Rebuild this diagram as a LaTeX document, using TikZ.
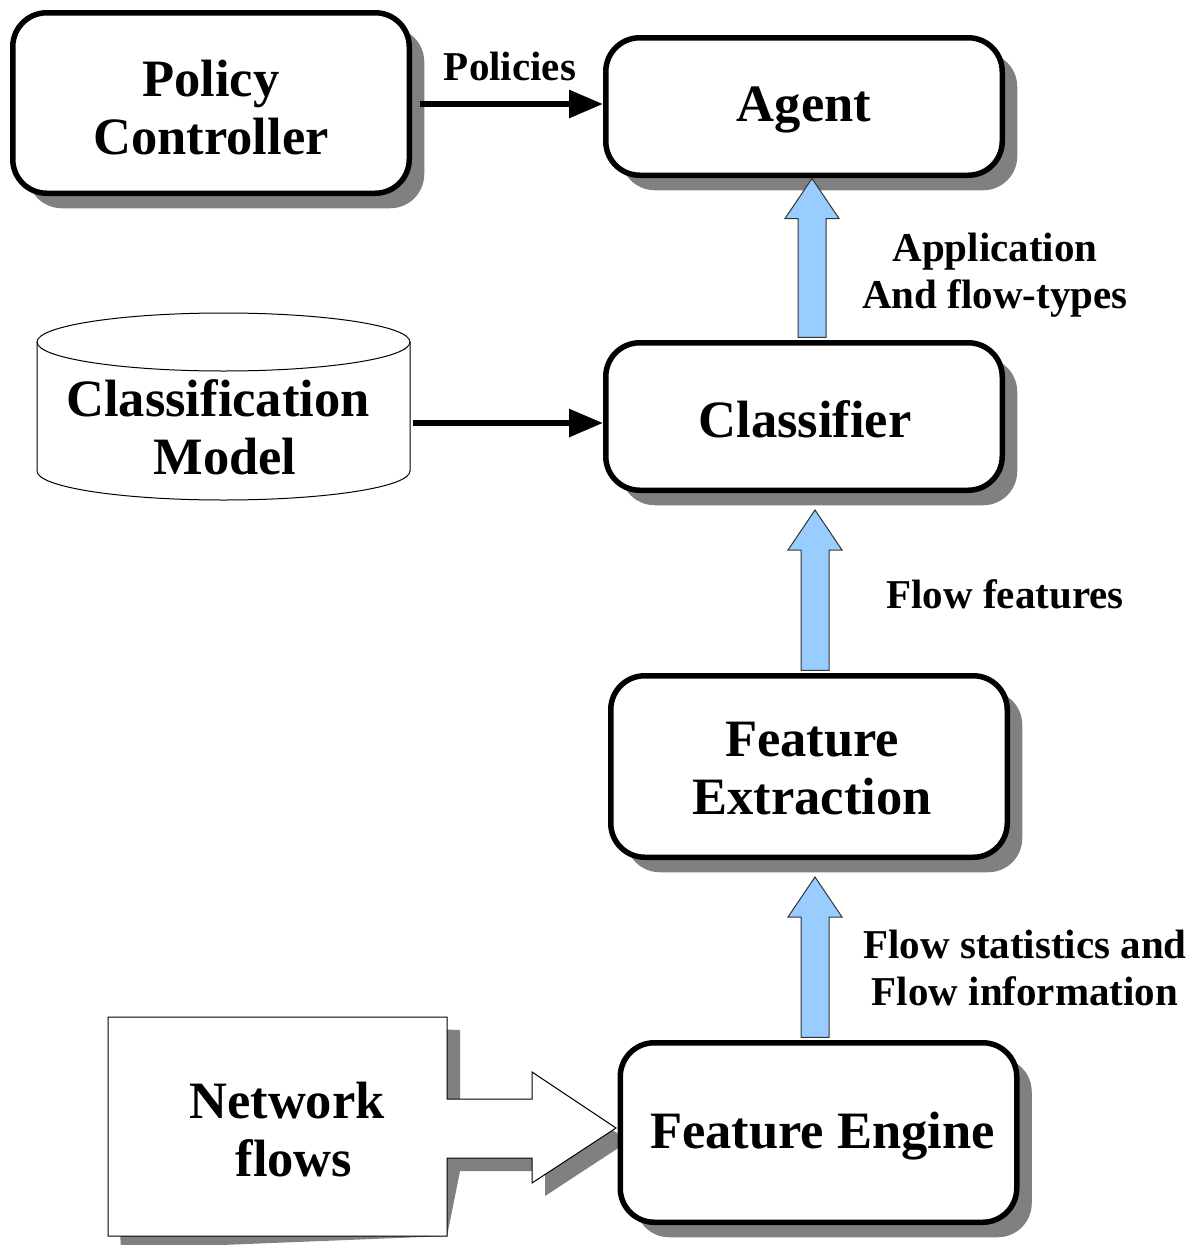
\documentclass[tikz,border=0pt]{standalone}
\usepackage{fontspec}
\setmainfont{Liberation Serif}
\usetikzlibrary{arrows.meta,calc,shadows}
\definecolor{shadegray}{RGB}{128,128,128}
\definecolor{flowblue}{RGB}{153,204,255}

% upward block arrow: #1 = foot of the shaft, #2 = point the tip reaches
\newcommand\flowarrow[2]{%
  \path[fill=flowblue, draw=black!80, line width=1pt, line join=miter]
    let \p1=(#1), \p2=(#2) in
    (\x1-14pt,\y1) -- (\x1-14pt,\y2-40pt) -- (\x1-27pt,\y2-40pt) -- (\x1,\y2)
    -- (\x1+27pt,\y2-40pt) -- (\x1+14pt,\y2-40pt) -- (\x1+14pt,\y1) -- cycle;}

\begin{document}
\begin{tikzpicture}[x=1pt,y=-1pt,
  box/.style={draw, line width=5.5pt, rounded corners=34pt, fill=white,
    minimum width=396.5pt, inner sep=0pt,
    drop shadow={shadow xshift=15pt, shadow yshift=-15pt, opacity=1, fill=shadegray}},
  lbl/.style={align=center, inner sep=0pt, font=\bfseries\fontsize{41}{47}\selectfont},
  bigtext/.style={align=center, inner sep=0pt, font=\bfseries\fontsize{52.5}{58}\selectfont},
  link/.style={line width=6pt, -{Triangle[length=34pt,width=27pt]}}]

\useasboundingbox (0,0) rectangle (1201,1245);
\fill[white] (0,0) rectangle (1201,1245);

% main processing boxes
\node[box, minimum height=180.5pt] (pc) at (211,103) {};
\node[bigtext] (pct) at ($(pc.center)+(0,5)$) {Policy\\Controller};
\node[box, minimum height=137.5pt] (agent) at (804,106.5) {};
\node[bigtext] (agt) at ($(agent.center)+(0,3)$) {Agent};
\node[box, minimum height=147.5pt] (cls) at (804,416.5) {};
\node[bigtext] (clt) at ($(cls.center)+(1,3)$) {Classifier};
\node[box, minimum height=181.5pt] (fx) at (809,766.5) {};
\node[bigtext] (fxt) at ($(fx.center)+(3,2)$) {Feature\\Extraction};

% classification model store (cylinder)
\coordinate (cyl) at (223.5,407);
\path[draw=black, fill=white, line width=1pt]
  ($(cyl)+(-186.5,-65)$) -- ($(cyl)+(-186.5,64)$)
  arc[start angle=180, end angle=360, x radius=186.5pt, y radius=29pt]
  -- ($(cyl)+(186.5,-65)$)
  arc[start angle=0, end angle=180, x radius=186.5pt, y radius=29pt] -- cycle;
\draw[line width=1pt] ($(cyl)+(-186.5,-65)$)
  arc[start angle=180, end angle=360, x radius=186.5pt, y radius=29pt];
\node[bigtext] (cm) at (218,427) {Classification\\\hspace*{14pt}Model};
\coordinate (cmr) at ($(cyl)+(189,16)$);

% network flows box with its attached block arrow
\coordinate (nfa) at (108,1017);
\coordinate (nfb) at (447,1236);
\begin{scope}[shift={(13,13)}]
  \fill[shadegray] (nfa) -- (447,1017) -- (447,1099) -- (532,1099) -- (532,1072)
    -- (616,1128) -- (532,1183) -- (532,1158) -- (447,1158) -- (nfb) -- (108,1236) -- cycle;
\end{scope}
\path[draw=black, fill=white, line width=1pt, line join=miter]
  (nfa) -- (447,1017) -- (447,1099) -- (532,1099) -- (532,1072)
  -- (616,1128) -- (532,1183) -- (532,1158) -- (447,1158) -- (nfb) -- (108,1236) -- cycle;
\node[bigtext] (nf) at (287,1130) {Network\\\hspace*{14pt}flows};

\node[box, minimum height=179.5pt] (fe) at (818.5,1132.5) {};
\node[bigtext] (fet) at ($(fe.center)+(4,4)$) {Feature Engine};

% black connectors
\draw[link] ($(pc.east)+(8,1)$) -- (agent.west |- 0,104);
\draw[link] (cmr) -- (cls.west |- cmr);

% flow arrows between the stages
\coordinate (a1) at ($(cls.north)+(8,-2.75)$);
\coordinate (t1) at ($(agent.south)+(8,0.5)$);
\flowarrow{a1}{t1}
\coordinate (a2) at ($(fx.north)+(6,-2.75)$);
\coordinate (t2) at ($(cls.south)+(6,17)$);
\flowarrow{a2}{t2}
\coordinate (a3) at ($(fe.north)+(-3.5,-2.75)$);
\coordinate (t3) at ($(fx.south)+(6,17)$);
\flowarrow{a3}{t3}

% labels
\node[lbl] (lpol) at (510,66) {Policies};
\node[lbl] (lapp) at (995,275) {Application\\And flow-types};
\node[lbl] (lff) at (1005,594) {Flow features};
\node[lbl] (lfs) at (1025,968) {Flow statistics and\\Flow information};
\end{tikzpicture}
\end{document}
